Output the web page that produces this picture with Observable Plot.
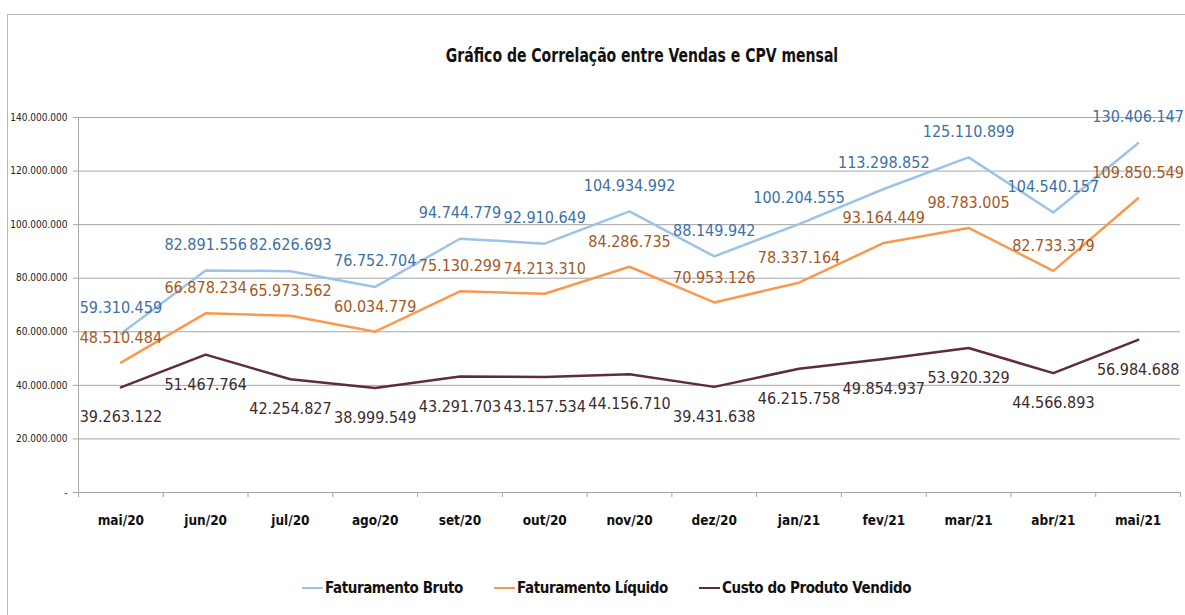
<!DOCTYPE html>
<html>
<head>
<meta charset="utf-8">
<script src="https://cdn.jsdelivr.net/npm/d3@7"></script>
<script src="https://cdn.jsdelivr.net/npm/@observablehq/plot@0.6"></script>
<style>
  body { margin: 0; background: #fff; }
  #wrap { position: relative; width: 1185px; height: 615px; overflow: hidden; font-family: "DejaVu Sans", sans-serif; font-stretch: condensed; }
  #frame { position: absolute; left: 7px; top: 14px; width: 1190px; height: 610px; border: 1px solid #b8b8b8; box-sizing: border-box; }
  #title { position: absolute; left: 642px; top: 44px; white-space: nowrap; transform: translateX(-50%) scaleX(0.82); font-weight: bold; font-size: 19px; color: #111; }
  #chart { position: absolute; left: 0; top: 80px; }
  #legend { position: absolute; left: 302px; top: 579px; font-weight: bold; font-size: 15px; letter-spacing: -0.4px; color: #111; display: flex; align-items: center; white-space: nowrap; }
  .item { display: flex; align-items: center; margin-right: 31px; }
  .sw { width: 21px; height: 2.5px; margin-right: 2px; }
  svg text { font-stretch: condensed; }
</style>
</head>
<body>
<div id="wrap">
  <div id="frame"></div>
  <div id="title">Gráfico de Correlação entre Vendas e CPV mensal</div>
  <div id="chart"></div>
  <div id="legend"></div>
</div>
<script>
const months = ["mai/20","jun/20","jul/20","ago/20","set/20","out/20","nov/20","dez/20","jan/21","fev/21","mar/21","abr/21","mai/21"];
const faturamentoBruto = [59310459, 82891556, 82626693, 76752704, 94744779, 92910649, 104934992, 88149942, 100204555, 113298852, 125110899, 104540157, 130406147];
const faturamentoLiquido = [48510484, 66878234, 65973562, 60034779, 75130299, 74213310, 84286735, 70953126, 78337164, 93164449, 98783005, 82733379, 109850549];
const custoProdutoVendido = [39263122, 51467764, 42254827, 38999549, 43291703, 43157534, 44156710, 39431638, 46215758, 49854937, 53920329, 44566893, 56984688];
const seriesNames = ["Faturamento Bruto", "Faturamento Líquido", "Custo do Produto Vendido"];
const yTicks = [0, 20000000, 40000000, 60000000, 80000000, 100000000, 120000000, 140000000];

const lineColors = ["#9dc3e6", "#f79a4f", "#5e2b40"];
const labelColors = ["#3c70a6", "#a5581f", "#3b2b30"];
const labelDy = [-26, -25, 30];

const fmt = v => v === 0 ? "-" : d3.format(",")(v).replace(/,/g, ".");

const allSeries = [faturamentoBruto, faturamentoLiquido, custoProdutoVendido];
const data = allSeries.flatMap((vals, s) => vals.map((v, i) => ({i, v, s})));

const marks = [
  Plot.gridY(yTicks, {stroke: "#a6a6a6", strokeOpacity: 1, strokeWidth: 1}),
  Plot.ruleX([-0.5], {y1: 0, y2: 140000000, stroke: "#a6a6a6"}),
  Plot.axisY(yTicks, {label: null, tickSize: 5, tickPadding: 6, tickFormat: fmt, fontSize: 10, stroke: "#a6a6a6", fill: "#222"}),
  Plot.axisX(d3.range(-0.5, 13, 1), {label: null, tickSize: 5, tickFormat: () => "", stroke: "#a6a6a6"}),
  Plot.axisX(d3.range(0, 13), {label: null, tickSize: 0, tickPadding: 23, tickFormat: i => months[i], fontSize: 13.5, fontWeight: "bold", fill: "#111"}),
];
allSeries.forEach((vals, s) => {
  const d = data.filter(r => r.s === s);
  marks.push(Plot.line(d, {x: "i", y: "v", stroke: lineColors[s], strokeWidth: 2.5}));
});
allSeries.forEach((vals, s) => {
  const d = data.filter(r => r.s === s);
  marks.push(Plot.text(d, {x: "i", y: "v", text: r => fmt(r.v), dy: labelDy[s], fill: labelColors[s], fontSize: 16}));
});

const chart = Plot.plot({
  width: 1185,
  height: 470,
  marginLeft: 78,
  marginRight: 5,
  marginTop: 37,
  marginBottom: 58,
  style: {fontFamily: "'DejaVu Sans', sans-serif", background: "transparent"},
  x: {type: "linear", domain: [-0.5, 12.5], axis: null},
  y: {domain: [0, 140000000], axis: null},
  marks
});
document.getElementById("chart").appendChild(chart);

const leg = document.getElementById("legend");
seriesNames.forEach((n, s) => {
  const it = document.createElement("div");
  it.className = "item";
  it.innerHTML = `<div class="sw" style="background:${lineColors[s]}"></div><span>${n}</span>`;
  leg.appendChild(it);
});
</script>
</body>
</html>
